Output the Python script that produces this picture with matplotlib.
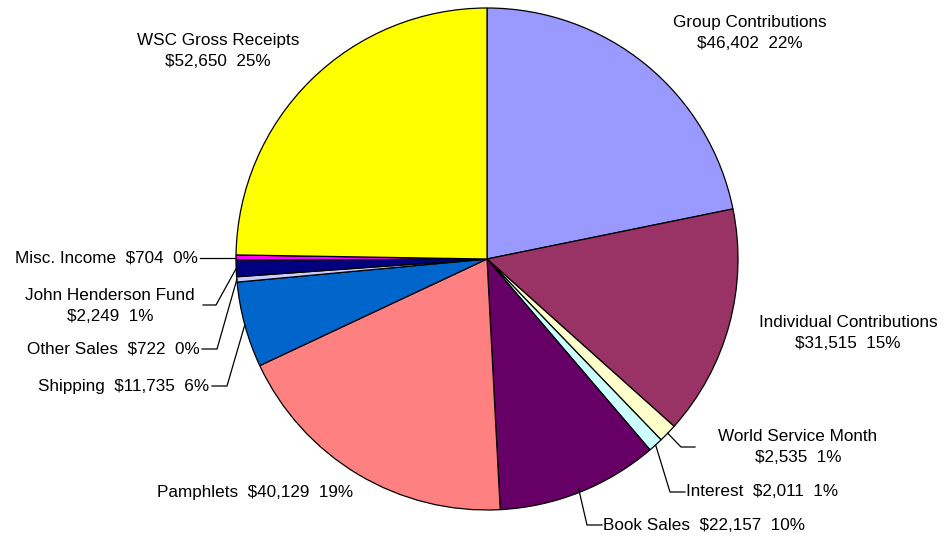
import matplotlib
matplotlib.use("Agg")
import matplotlib.pyplot as plt
import numpy as np

categories = ["Group Contributions", "Individual Contributions", "World Service Month",
              "Interest", "Book Sales", "Pamphlets", "Shipping", "Other Sales",
              "John Henderson Fund", "Misc. Income", "WSC Gross Receipts"]
values = [46402, 31515, 2535, 2011, 22157, 40129, 11735, 722, 2249, 704, 52650]
percents = [22, 15, 1, 1, 10, 19, 6, 0, 1, 0, 25]
colors = ["#9999FF", "#993366", "#FFFFCC", "#CCFFFF", "#660066", "#FF8080",
          "#0066CC", "#CCCCFF", "#000080", "#FF00FF", "#FFFF00"]

W, H = 943, 538
fig = plt.figure(figsize=(W / 100, H / 100), dpi=100)
ax = fig.add_axes([0, 0, 1, 1])

cx, cy, R = 487, H - 259, 251
wedges, _ = ax.pie(values, colors=colors, startangle=90, counterclock=False,
                   center=(cx, cy), radius=R, frame=True,
                   wedgeprops=dict(edgecolor="black", linewidth=0.9))
ax.set_xlim(0, W)
ax.set_ylim(0, H)
ax.set_aspect("equal")
ax.axis("off")

plt.rcParams['font.family'] = ['Liberation Sans', 'DejaVu Sans']
fs = 12.3
ls = 1.45


def money(v):
    return "${:,}".format(v)


def lab(i, two_lines):
    if two_lines:
        return categories[i] + "\n" + money(values[i]) + "  " + str(percents[i]) + "%"
    return categories[i] + "  " + money(values[i]) + "  " + str(percents[i]) + "%"


def anchor(i, r=R):
    w = wedges[i]
    a = np.deg2rad((w.theta1 + w.theta2) / 2)
    return cx + r * np.cos(a), cy + r * np.sin(a)


def P(y):
    return H - y

# labels without leader lines
ax.text(750, P(33), lab(0, True), ha="center", va="center", fontsize=fs, linespacing=ls)
ax.text(218, P(51), lab(10, True), ha="center", va="center", fontsize=fs, linespacing=ls)
ax.text(848, P(333), lab(1, True), ha="center", va="center", fontsize=fs, linespacing=ls)
ax.text(255, P(492), lab(5, False), ha="center", va="center", fontsize=fs)

# labels with leader lines
lk = dict(color="black", linewidth=0.9)

# World Service Month
x0, y0 = anchor(2)
ax.plot([x0, 681, 695], [y0, P(447), P(447)], **lk)
ax.text(798, P(447), lab(2, True), ha="center", va="center", fontsize=fs, linespacing=ls)

# Interest
x0, y0 = anchor(3)
ax.plot([x0, 670, 685], [y0, P(492), P(492)], **lk)
ax.text(686, P(492), lab(3, False), ha="left", va="center", fontsize=fs)

# Book Sales
x0, y0 = anchor(4, R - 4)
ax.plot([x0, 587, 602], [y0, P(525), P(525)], **lk)
ax.text(603, P(525), lab(4, False), ha="left", va="center", fontsize=fs)

# Shipping
x0, y0 = anchor(6)
ax.plot([x0, 227, 212], [y0, P(386), P(386)], **lk)
ax.text(209, P(386), lab(6, False), ha="right", va="center", fontsize=fs)

# Other Sales
x0, y0 = anchor(7)
ax.plot([x0, 217, 202], [y0, P(349), P(349)], **lk)
ax.text(200, P(349), lab(7, False), ha="right", va="center", fontsize=fs)

# John Henderson Fund
x0, y0 = anchor(8)
ax.plot([x0, 216, 203], [y0, P(305), P(305)], **lk)
ax.text(110, P(306), lab(8, True), ha="center", va="center", fontsize=fs, linespacing=ls)

# Misc. Income
x0, y0 = anchor(9)
ax.plot([x0, 200], [y0, y0], **lk)
ax.text(198, y0, lab(9, False), ha="right", va="center", fontsize=fs)

fig.savefig("out.png", dpi=100)
